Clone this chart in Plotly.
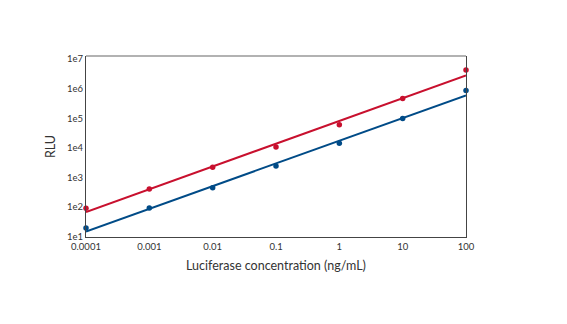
import plotly.graph_objects as go

conc = [0.0001, 0.001, 0.01, 0.1, 1, 10, 100]
red_rlu = [92, 407, 2230, 10700, 60000, 460000, 4.2e6]
blue_rlu = [19.5, 93, 450, 2450, 14200, 98000, 870000]
fit_x = [0.0001, 100]
red_fit = [68, 2.8e6]
blue_fit = [15, 5.9e5]

x_ticks = [0.0001, 0.001, 0.01, 0.1, 1, 10, 100]
x_labels = ["0.0001", "0.001", "0.01", "0.1", "1", "10", "100"]
y_ticks = [1e1, 1e2, 1e3, 1e4, 1e5, 1e6, 1e7]
y_labels = ["1e1", "1e2", "1e3", "1e4", "1e5", "1e6", "1e7"]

RED = "#C8102E"
BLUE = "#004B87"

fig = go.Figure()
for fy, c in [(red_fit, RED), (blue_fit, BLUE)]:
    fig.add_trace(go.Scatter(x=fit_x, y=fy, mode="lines", line=dict(color=c, width=2),
                             showlegend=False, hoverinfo="skip", cliponaxis=False))
for yy, c in [(red_rlu, RED), (blue_rlu, BLUE)]:
    fig.add_trace(go.Scatter(x=conc, y=yy, mode="markers", marker=dict(color=c, size=5.5),
                             showlegend=False, cliponaxis=False))

fig.update_layout(
    width=567, height=324,
    margin=dict(l=86, r=101, t=56, b=87),
    plot_bgcolor="white", paper_bgcolor="white",
    font=dict(family="Lato, Open Sans, sans-serif", color="#333"),
)
fig.update_xaxes(type="log", range=[-4, 2], tickvals=x_ticks, ticktext=x_labels,
                 showgrid=False, zeroline=False, showline=True, linecolor="#444", linewidth=1.2,
                 ticks="", tickfont=dict(size=9.5, color="#333"),
                 title=dict(text="Luciferase concentration (ng/mL)", font=dict(size=12.5, color="#333"), standoff=10))
fig.update_yaxes(type="log", range=[0.99, 7.1], tickvals=y_ticks, ticktext=y_labels,
                 showgrid=False, zeroline=False, showline=True, linecolor="#444", linewidth=1.2,
                 mirror=True, ticks="", tickfont=dict(size=9.5, color="#333"),
                 title=dict(text="RLU", font=dict(size=12.5, color="#333"), standoff=8))
fig.add_shape(type="line", xref="paper", yref="paper", x0=0, x1=1, y0=1, y1=1,
              line=dict(color="#999", width=1.5))

fig.write_html("out.html")
